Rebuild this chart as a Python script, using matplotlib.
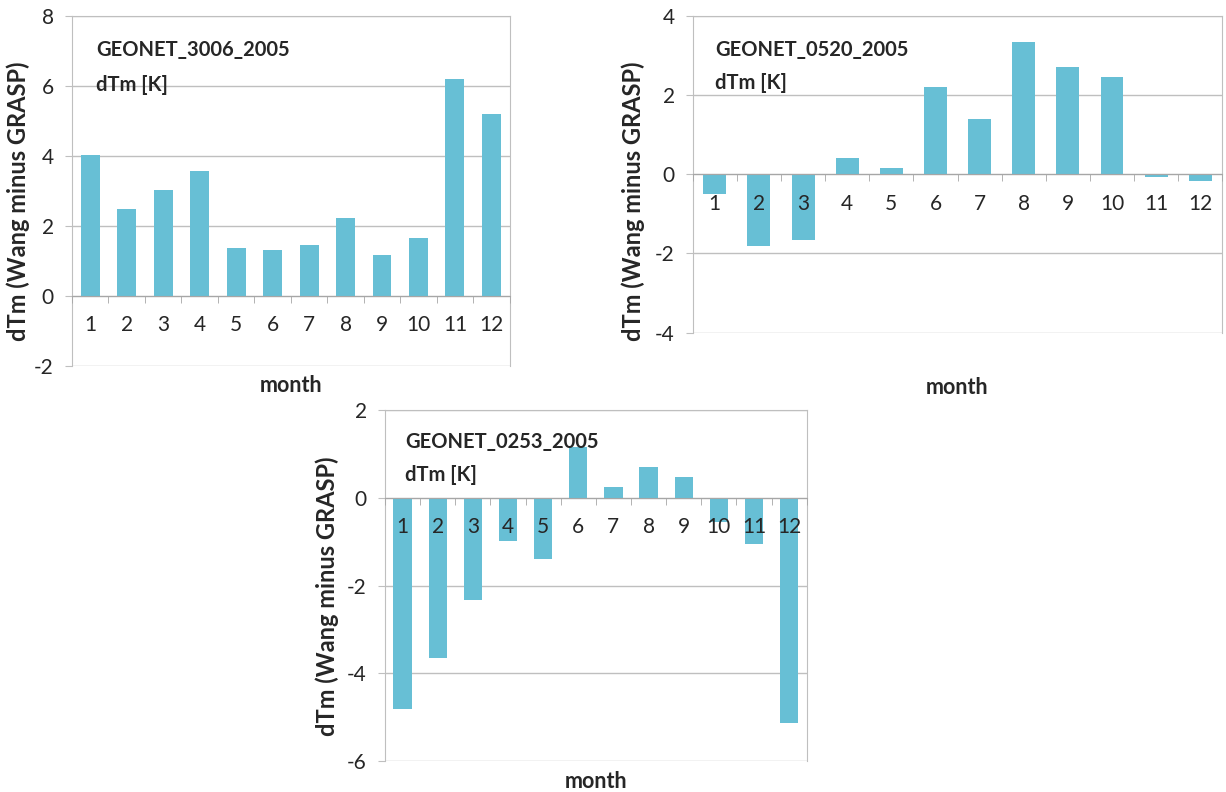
import numpy as np
import matplotlib.pyplot as plt
from matplotlib.ticker import FixedLocator

plt.rcParams['font.family'] = ['Lato', 'DejaVu Sans']
plt.rcParams['axes.unicode_minus'] = False

months = [str(m) for m in range(1, 13)]

# monthly dTm differences (Wang minus GRASP)
dtm_3006 = [4.03, 2.47, 3.02, 3.57, 1.38, 1.30, 1.45, 2.23, 1.16, 1.66, 6.19, 5.21]
dtm_0520 = [-0.49, -1.81, -1.66, 0.40, 0.15, 2.21, 1.39, 3.34, 2.71, 2.46, -0.08, -0.18]
dtm_0253 = [-4.81, -3.66, -2.32, -0.99, -1.39, 1.16, 0.24, 0.70, 0.47, -0.54, -1.06, -5.12]

# name, values, y range, axes rect, title pos, month label y (fig px from top), ylabel coords
panels = [
    ('GEONET_3006_2005', dtm_3006, (-2, 8), [0.0587, 0.538, 0.357, 0.442], (0.055, 0.903, 0.803), 385, (-0.096, 0.47)),
    ('GEONET_0520_2005', dtm_0520, (-4, 4), [0.565, 0.580, 0.432, 0.400], (0.043, 0.893, 0.789), 387, (-0.090, 0.416)),
    ('GEONET_0253_2005', dtm_0253, (-6, 2), [0.314, 0.039, 0.344, 0.443], (0.047, 0.909, 0.815), 781, (-0.109, 0.47)),
]

bar_color = '#67BFD5'
grey = '#BFBFBF'
txt = '#262626'

fig = plt.figure(figsize=(12.26, 7.92), dpi=100)

for name, vals, ylim, rect, tpos, month_y, ylab in panels:
    ax = fig.add_axes(rect)
    x = np.arange(1, 13)
    ax.bar(x, vals, width=0.52, color=bar_color, zorder=3)
    ax.set_xlim(0.5, 12.5)
    ax.set_ylim(*ylim)
    ax.set_yticks(np.arange(ylim[0], ylim[1] + 1, 2))
    ax.yaxis.grid(True, color=grey, linewidth=1)
    ax.yaxis.set_zorder(0.5)
    ax.xaxis.set_zorder(5)

    # category axis crosses at zero, labels sit just under it
    ax.spines['bottom'].set_position(('data', 0))
    ax.spines['bottom'].set_color('#A6A6A6')
    ax.spines['bottom'].set_zorder(4)
    for s in ['left', 'right', 'top']:
        ax.spines[s].set_color(grey)
    ax.set_xticks(x)
    ax.set_xticklabels(months)
    ax.xaxis.set_minor_locator(FixedLocator(np.arange(0.5, 13, 1)))
    ax.tick_params(axis='x', which='major', length=0, pad=14, labelsize=15, labelcolor=txt)
    ax.tick_params(axis='x', which='minor', length=5, color='#A6A6A6', direction='out')
    ax.tick_params(axis='y', length=5, color=grey, pad=8, labelsize=15, labelcolor=txt)

    ax.set_ylabel('dTm (Wang minus GRASP)', fontsize=17, fontweight='bold', color=txt)
    ax.yaxis.set_label_coords(*ylab)
    fig.text(rect[0] + rect[2] / 2, 1 - month_y / 792, 'month', ha='center', va='center',
             fontsize=15.5, fontweight='bold', color=txt)

    ax.text(tpos[0], tpos[1], name, transform=ax.transAxes, ha='left', va='center',
            fontsize=14.5, fontweight='bold', color=txt)
    ax.text(tpos[0], tpos[2], 'dTm [K]', transform=ax.transAxes, ha='left', va='center',
            fontsize=14.5, fontweight='bold', color=txt)

fig.savefig('out.png', dpi=100)
